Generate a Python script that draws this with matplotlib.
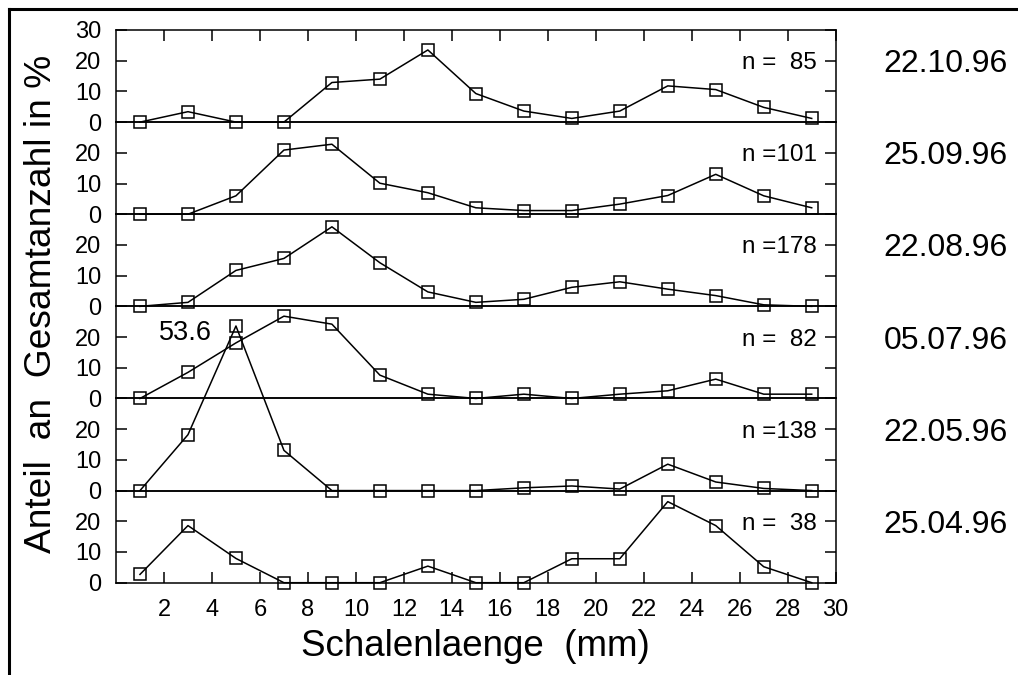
"""
Shell length distributions (Schalenlaenge) for six sampling dates, stacked panels.
"""

import matplotlib

matplotlib.use("Agg")
import matplotlib.pyplot as plt
from matplotlib.lines import Line2D

plt.rcParams["font.family"] = ["Liberation Sans", "DejaVu Sans"]

# shell length classes (mm)
laenge = [1, 3, 5, 7, 9, 11, 13, 15, 17, 19, 21, 23, 25, 27, 29]

# percentages per date (top panel first)
d_221096 = [0, 3.4, 0, 0, 12.9, 14.0, 23.5, 9.3, 3.6, 1.2, 3.6, 11.8, 10.6, 4.8, 1.2]
d_250996 = [0, 0, 6.0, 20.9, 22.8, 10.1, 7.0, 2.1, 1.2, 1.2, 3.3, 6.1, 13.0, 6.0, 2.1]
d_220896 = [0, 1.3, 11.7, 15.6, 25.9, 14.2, 4.7, 1.3, 2.3, 6.2, 8.0, 5.6, 3.5, 0.5, 0]
d_050796 = [0, 8.5, 18.1, 26.8, 24.2, 7.6, 1.4, 0, 1.4, 0, 1.4, 2.5, 6.3, 1.4, 1.4]
d_220596 = [0, 18.2, 53.6, 13.1, 0, 0, 0, 0, 0.9, 1.5, 0.5, 8.6, 2.8, 0.7, 0]
d_250496 = [2.7, 18.6, 7.9, 0, 0, 0, 5.4, 0, 0, 7.8, 7.8, 26.4, 18.6, 5.2, 0]

dates = ["22.10.96", "25.09.96", "22.08.96", "05.07.96", "22.05.96", "25.04.96"]
n_labels = ["n =  85", "n =101", "n =178", "n =  82", "n =138", "n =  38"]
series = [d_221096, d_250996, d_220896, d_050796, d_220596, d_250496]

W, H = 1018, 675
fig = plt.figure(figsize=(W / 100, H / 100), dpi=100)

# outer frame (only left and top edges are visible in the picture)
fx = 8.5 / W
fy = 1 - 8.5 / H
fig.add_artist(Line2D([fx, fx], [0, fy], transform=fig.transFigure, color="black", lw=2.2))
fig.add_artist(Line2D([fx, 1], [fy, fy], transform=fig.transFigure, color="black", lw=2.2))

left = 116 / W
right = 835.7 / W
top = 1 - 30 / H
bottom = 1 - 582.7 / H
ph = (top - bottom) / len(series)

axes = []
for i, (vals, date, nlab) in enumerate(zip(series, dates, n_labels)):
    ax = fig.add_axes([left, top - (i + 1) * ph, right - left, ph])
    ax.patch.set_visible(False)
    ax.set_xlim(0, 30)
    ax.set_ylim(0, 30)
    ax.plot(laenge, vals, color="black", lw=1.1, marker="s", ms=8.4,
            mfc="none", mec="black", mew=1.1, clip_on=False, zorder=3)

    ax.set_yticks([0, 10, 20, 30] if i == 0 else [0, 10, 20])
    ax.set_xticks(range(2, 31, 2))
    ax.tick_params(axis="y", direction="in", length=8, width=1.1, right=True,
                   labelsize=17, pad=10.5)
    ax.tick_params(axis="x", direction="in", length=8, width=1.1,
                   top=(i == 0), bottom=(i == len(series) - 1),
                   labelbottom=(i == len(series) - 1), labelsize=17, pad=11.5)
    for s in ax.spines.values():
        s.set_linewidth(1.1)

    ax.text(29.2, 20, nlab, ha="right", va="center_baseline", fontsize=17.5)
    ax.text(32, 20, date, ha="left", va="center_baseline", fontsize=23, clip_on=False)
    axes.append(ax)

# peak value of 22.05.96 reaches into the panel above
axes[4].text(4.0, 52.3, "53.6", ha="right", va="center_baseline", fontsize=19.5, clip_on=False)

fig.text((left + right) / 2, 1 - 646 / H, "Schalenlaenge  (mm)", ha="center", va="center",
         fontsize=26.5)
fig.text(41.5 / W, 1 - 304 / H, "Anteil  an  Gesamtanzahl in %", ha="center", va="center",
         rotation=90, fontsize=26.7)

fig.savefig("out.png", dpi=100)
